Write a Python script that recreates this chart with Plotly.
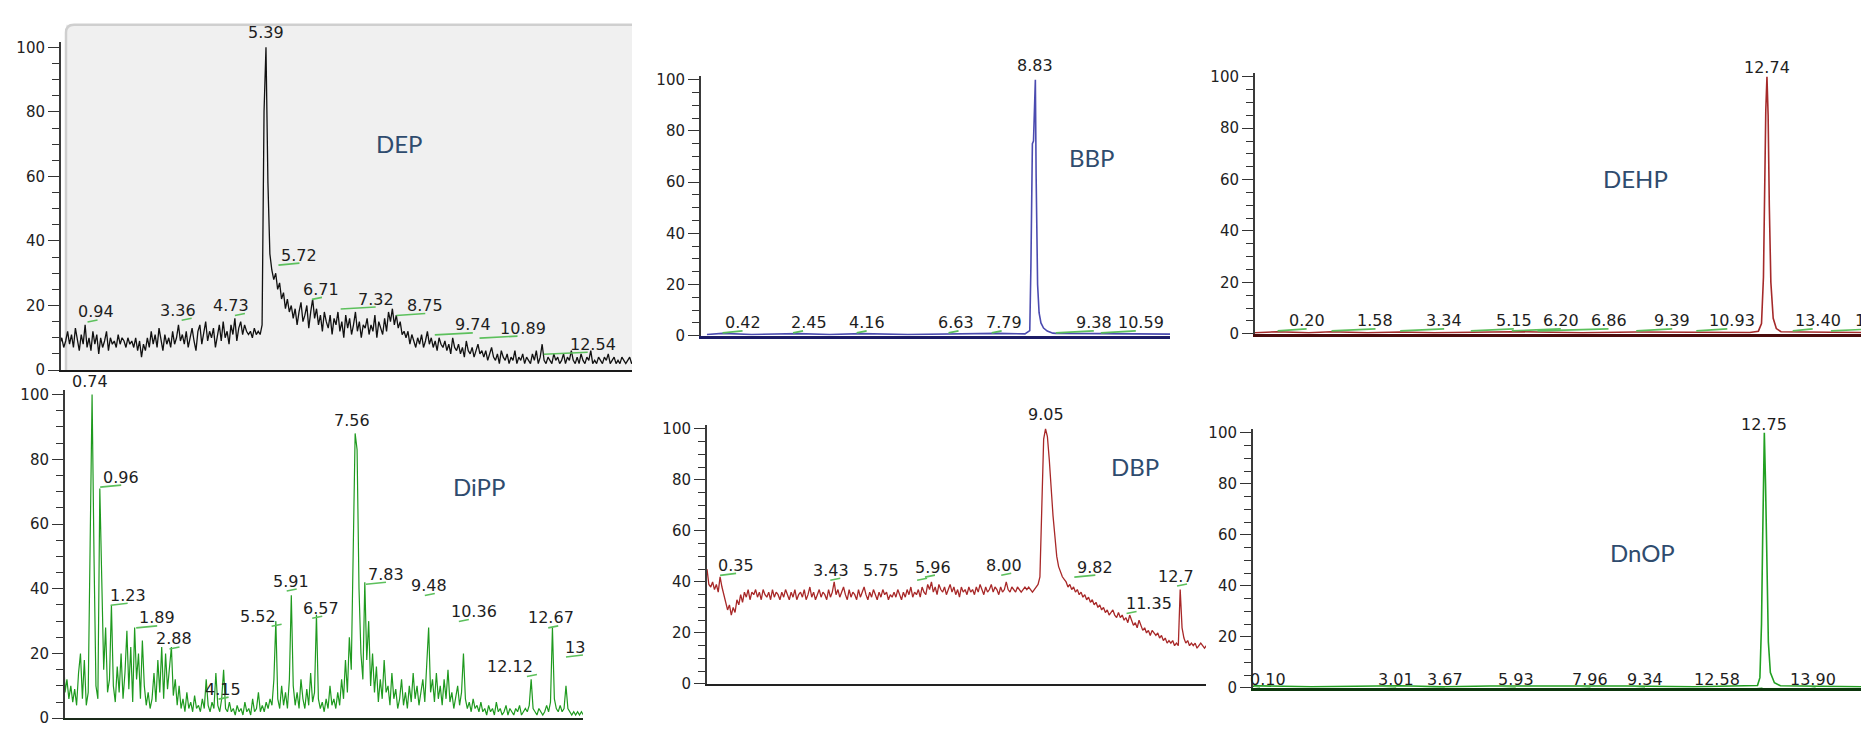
import numpy as np
import plotly.graph_objects as go

W, H = 1869, 732

# ---------------- DATA (relative abundance vs retention time, min) ----------------
DT = 0.05  # scan spacing of the noisy traces (min)

DEP = [6, 9, 8, 10, 7, 9, 12, 8, 11, 7, 13, 9, 6, 11, 8, 14, 7, 10, 6, 12,
       8, 11, 5, 10, 7, 9, 12, 6, 10, 8, 9, 7, 11, 8, 10, 9, 7, 10, 8, 9,
       7, 10, 6, 9, 4, 8, 6, 10, 7, 12, 8, 11, 7, 13, 9, 6, 11, 8, 10, 7,
       12, 8, 10, 14, 9, 11, 8, 12, 7, 10, 13, 9, 6, 12, 14, 8, 11, 15, 9, 12,
       10, 13, 7, 11, 14, 9, 15, 10, 12, 8, 14, 11, 16, 9, 13, 15, 11, 14, 12, 11,
       12, 10, 13, 11, 12, 11, 14, 80, 100, 58, 36, 31, 28, 30, 25, 27, 22, 24, 19, 22,
       18, 20, 16, 19, 14, 18, 21, 15, 17, 20, 13, 18, 22, 16, 19, 14, 17, 12, 18, 15,
       13, 17, 11, 16, 14, 18, 12, 15, 10, 17, 13, 16, 11, 14, 18, 12, 15, 10, 14, 13,
       16, 11, 14, 12, 17, 10, 15, 13, 11, 16, 12, 18, 15, 19, 14, 17, 13, 15, 11, 12,
       10, 12, 8, 11, 9, 7, 10, 8, 11, 7, 9, 12, 8, 10, 7, 9, 6, 10, 8, 7,
       9, 6, 8, 5, 10, 7, 6, 8, 5, 7, 4, 9, 6, 5, 7, 4, 6, 8, 5, 6,
       4, 6, 3, 5, 7, 4, 3, 5, 2, 6, 4, 3, 5, 2, 4, 3, 6, 2, 4, 3,
       5, 2, 4, 3, 2, 5, 3, 6, 2, 4, 8, 3, 2, 4, 3, 2, 5, 3, 4, 2,
       3, 5, 2, 4, 3, 6, 3, 2, 4, 2, 5, 3, 2, 4, 3, 6, 2, 3, 2, 4,
       3, 2, 4, 3, 5, 2, 3, 4, 2, 3, 2, 4, 3, 2, 3, 4, 2, 3, 2, 3, 2]

DIPP = [24, 8, 12, 6, 10, 5, 9, 4, 14, 20, 6, 18, 4, 8, 54, 100, 50, 10, 6, 71,
        43, 15, 28, 8, 12, 35, 10, 5, 16, 8, 20, 6, 14, 27, 9, 22, 5, 28, 12, 20,
        6, 24, 10, 4, 8, 3, 6, 14, 5, 18, 8, 22, 6, 20, 9, 16, 22, 7, 12, 4,
        10, 3, 6, 2, 8, 3, 5, 2, 7, 3, 4, 2, 6, 3, 12, 4, 2, 5, 3, 14,
        4, 2, 6, 15, 3, 2, 5, 2, 3, 1, 4, 2, 3, 1, 5, 2, 3, 1, 6, 2,
        3, 8, 2, 4, 2, 5, 3, 6, 4, 12, 30, 6, 3, 10, 4, 8, 3, 12, 38, 10,
        4, 8, 3, 12, 6, 3, 9, 4, 14, 5, 8, 32, 6, 3, 5, 2, 6, 3, 10, 4,
        6, 3, 8, 4, 12, 6, 18, 8, 25, 15, 55, 88, 83, 40, 20, 12, 42, 18, 30, 10,
        20, 8, 16, 5, 12, 6, 18, 8, 10, 4, 14, 6, 9, 3, 6, 12, 4, 8, 3, 10,
        5, 14, 6, 10, 4, 8, 12, 5, 18, 28, 8, 12, 5, 14, 6, 10, 4, 12, 6, 15,
        5, 8, 3, 6, 10, 4, 8, 20, 6, 3, 5, 2, 6, 3, 4, 2, 5, 2, 3, 1,
        4, 2, 3, 1, 5, 2, 3, 1, 2, 4, 1, 3, 2, 1, 3, 2, 4, 1, 2, 3,
        2, 4, 12, 3, 2, 1, 3, 2, 1, 2, 4, 2, 5, 28, 6, 3, 2, 4, 2, 3,
        10, 3, 2, 1, 2, 1, 2, 1, 2, 1]

DBP = [45, 39, 38, 40, 37, 39, 36, 42, 38, 35, 33, 29, 31, 27, 30, 28, 33, 31, 35, 32,
       36, 34, 37, 33, 36, 35, 37, 34, 36, 33, 37, 35, 34, 36, 33, 37, 34, 36, 35, 33,
       36, 34, 37, 35, 33, 36, 34, 37, 33, 35, 36, 34, 37, 33, 35, 38, 34, 36, 33, 35,
       37, 34, 36, 35, 33, 37, 34, 36, 40, 35, 37, 34, 36, 38, 35, 33, 37, 34, 36, 35,
       33, 37, 34, 36, 38, 35, 33, 36, 34, 37, 35, 33, 36, 34, 37, 35, 36, 33, 35, 34,
       36, 34, 37, 35, 33, 36, 34, 37, 35, 38, 34, 36, 35, 37, 34, 38, 36, 35, 39, 37,
       40, 36, 38, 35, 39, 37, 36, 38, 35, 37, 39, 36, 38, 35, 37, 34, 38, 36, 37, 35,
       38, 36, 37, 35, 38, 36, 39, 37, 35, 38, 36, 37, 39, 36, 38, 37, 35, 38, 36, 37,
       40, 37, 36, 38, 37, 36, 38, 37, 36, 37, 38, 37, 38, 37, 36, 37, 38, 39, 42, 65,
       96, 100, 97, 88, 75, 66, 58, 50, 46, 44, 42, 41, 40, 38, 39, 37, 38, 36, 37, 35,
       36, 34, 35, 33, 34, 32, 33, 31, 32, 30, 31, 29, 30, 28, 29, 27, 28, 29, 27, 26,
       28, 26, 27, 25, 26, 24, 27, 25, 23, 24, 22, 25, 23, 21, 22, 20, 21, 19, 21, 20,
       19, 20, 18, 19, 17, 18, 16, 17, 16, 17, 15, 16, 15, 37, 22, 18, 16, 17, 15, 16,
       15, 16, 14, 15, 16, 15, 14, 15, 16]

BBP_T = [0.0, 0.42, 1.2, 2.45, 3.3, 4.16, 5.4, 6.63, 7.79, 8.55, 8.68, 8.71, 8.75, 8.78,
         8.81, 8.83, 8.85, 8.87, 8.89, 8.93, 8.98, 9.05, 9.15, 9.3, 9.38, 10.59, 12.45]
BBP_Y = [0.5, 0.9, 0.5, 0.8, 0.5, 0.8, 0.5, 0.8, 0.9, 0.7, 2.0, 27, 75, 76,
         97, 100, 63, 40, 20, 9, 5, 3, 1.8, 1.0, 0.9, 0.8, 0.6]

DEHP_T = [-0.38, 0.2, 1.0, 1.58, 2.5, 3.34, 4.2, 5.15, 6.2, 6.86, 8.0, 9.39, 10.93, 12.3,
          12.52, 12.6, 12.65, 12.68, 12.71, 12.74, 12.77, 12.80, 12.84, 12.90, 12.98,
          13.1, 13.4, 14.38, 15.56]
DEHP_Y = [0.4, 0.8, 0.4, 0.8, 0.4, 0.7, 0.4, 0.7, 0.8, 0.7, 0.4, 0.7, 0.7, 0.5,
          1.0, 4, 22, 60, 87, 100, 85, 50, 20, 6, 2,
          0.8, 0.7, 0.6, 0.4]

DNOP_T = [0.0, 0.1, 1.5, 3.01, 3.67, 4.8, 5.93, 7.96, 9.34, 11.0, 12.4, 12.58, 12.64,
          12.68, 12.71, 12.73, 12.75, 12.78, 12.81, 12.85, 12.9, 13.0, 13.15, 13.9, 15.35]
DNOP_Y = [0.4, 0.8, 0.4, 0.7, 0.8, 0.4, 0.7, 0.7, 0.7, 0.4, 0.6, 0.9, 4,
          25, 60, 87, 100, 80, 45, 18, 6, 2, 0.8, 0.7, 0.4]

# Peak retention-time labels (first one = base peak, 100 %)
DEP_LABELS = ["5.39", "0.94", "3.36", "4.73", "5.72", "6.71", "7.32", "8.75", "9.74", "10.89", "12.54"]
BBP_LABELS = ["8.83", "0.42", "2.45", "4.16", "6.63", "7.79", "9.38", "10.59"]
DEHP_LABELS = ["12.74", "0.20", "1.58", "3.34", "5.15", "6.20", "6.86", "9.39", "10.93", "13.40", "14.38"]
DIPP_LABELS = ["0.74", "7.56", "0.96", "1.23", "1.89", "2.88", "4.15", "5.52", "5.91", "6.57",
               "7.83", "9.48", "10.36", "12.12", "12.67", "13"]
DBP_LABELS = ["9.05", "0.35", "3.43", "5.75", "5.96", "8.00", "9.82", "11.35", "12.7"]
DNOP_LABELS = ["12.75", "0.10", "3.01", "3.67", "5.93", "7.96", "9.34", "12.58", "13.90"]

COMPOUNDS = ["DEP", "BBP", "DEHP", "DiPP", "DBP", "DnOP"]

# ---------------- LAYOUT / STYLE ----------------
YMAX = 101.5
# per label: height (abundance units, None = base peak), kind (m=base peak, c=centred, l=left), x pixel shift
LAB_POS = {
    "DEP": ([None, 18, 18.5, 20, 35.6, 25, 22, 20, 14, 13, 8],
            ["m", "l", "l", "l", "l", "l", "l", "l", "l", "l", "l"],
            [0, -17, -29, -29, 1, -16, 15, 9, 18, 18, 24]),
    "BBP": ([None, 5, 5, 5, 5, 5, 5, 5],
            ["m", "l", "l", "l", "l", "l", "l", "l"],
            [0, 0, -9, -15, -18, -13, 18, 15]),
    "DEHP": ([None, 5, 5, 5, 5, 5, 5, 5, 5, 5, 5],
             ["m", "l", "l", "l", "l", "l", "l", "l", "l", "l", "l"],
             [0, 9, 24, 24, 23, 29, 51, 16, 11, 0, 22]),
    "DiPP": ([None, 92, 74.5, 38, 31, 24.5, 9, 31.5, 42.4, 34, 44.5, 41, 33, 16, 31, 22],
             ["m", "c", "l", "l", "l", "l", "l", "l", "l", "l", "l", "l", "l", "l", "l", "l"],
             [-2, -4, 1, -3, 1, -20, -21, -39, -21, -16, 0, -21, -15, -47, -27, -3]),
    "DBP": ([None, 46.5, 44.6, 44.6, 45.8, 46.5, 45.8, 31.5, 42.3],
            ["m", "l", "l", "l", "l", "l", "l", "l", "l"],
            [0, -4, -24, -61, -17, -22, 1, -8, -26]),
    "DnOP": ([None, 3.2, 3.2, 3.2, 3.2, 3.2, 3.2, 3.2, 3.2],
             ["m", "l", "l", "l", "l", "l", "l", "l", "l"],
             [0, -7, 4, 26, 6, -1, -2, -65, -23]),
}

PANELS = {
    "DEP":  dict(px=(53, 624),    p0=364, p100=35,  xr=(0.13, 14.81), color="#111111", lw=1.3,
                 axc="#1a1a1a", axw=2.2, name_px=(391, 133), main_dy=15),
    "BBP":  dict(px=(693, 1162),  p0=329, p100=68,  xr=(-0.16, 12.45), color="#4b4bb0", lw=1.6,
                 axc="#1c1c66", axw=3, name_px=(1083, 147), main_dy=14),
    "DEHP": dict(px=(1247, 1869), p0=327, p100=65,  xr=(-0.38, 15.56), color="#a52a2a", lw=1.6,
                 axc="#4a0c0c", axw=2.6, name_px=(1627, 169), main_dy=9),
    "DiPP": dict(px=(57, 575),    p0=719, p100=389, xr=(0.05, 13.44), color="#1f9a1f", lw=1.2,
                 axc="#1a2a1a", axw=2, name_px=(471, 483), main_dy=13),
    "DBP":  dict(px=(699, 1198),  p0=684, p100=424, xr=(0.0, 13.34), color="#a82828", lw=1.3,
                 axc="#222222", axw=1.6, name_px=(1127, 462), main_dy=14),
    "DnOP": dict(px=(1245, 1859), p0=688, p100=428, xr=(0.05, 15.3), color="#22a022", lw=1.6,
                 axc="#0c360c", axw=2.6, name_px=(1634, 550), main_dy=8),
}

SERIES = {
    "DEP": (DT * np.arange(len(DEP)), DEP, DEP_LABELS),
    "BBP": (BBP_T, BBP_Y, BBP_LABELS),
    "DEHP": (DEHP_T, DEHP_Y, DEHP_LABELS),
    "DiPP": (DT * np.arange(len(DIPP)), DIPP, DIPP_LABELS),
    "DBP": (DT * np.arange(len(DBP)), DBP, DBP_LABELS),
    "DnOP": (DNOP_T, DNOP_Y, DNOP_LABELS),
}

NUM_FONT = dict(family="DejaVu Sans", size=16, color="#1e1e1e")
GREEN = "#5cc05c"

fig = go.Figure()
layout = dict(width=W, height=H, margin=dict(l=0, r=0, t=0, b=0), autosize=False,
              paper_bgcolor="white", plot_bgcolor="rgba(0,0,0,0)", showlegend=False)
annotations, shapes = [], []

# grey background of the DEP trace window
gx0, gx1, gy0, gy1, rad = 58 / W, 624 / W, 1 - 366 / H, 1 - 12 / H, 8
shapes.append(dict(type="rect", xref="paper", yref="paper", x0=gx0, x1=gx1, y0=gy0, y1=gy1,
                   fillcolor="#f0f0f0", line=dict(width=0), layer="below"))
shapes.append(dict(type="path", xref="paper", yref="paper", layer="below",
                   path=f"M {gx0},{gy0} L {gx0},{gy1 - rad / H} Q {gx0},{gy1} {gx0 + rad / W},{gy1} L {gx1},{gy1}",
                   line=dict(color="#cfcfcf", width=2.5)))

for i, key in enumerate(COMPOUNDS):
    P = PANELS[key]
    t, y, labels = SERIES[key]
    n = "" if i == 0 else str(i + 1)
    xa, ya = "x" + n, "y" + n
    top_px = P["p0"] - (P["p0"] - P["p100"]) * YMAX / 100.0
    layout["xaxis" + n] = dict(domain=[P["px"][0] / W, P["px"][1] / W], range=list(P["xr"]),
                               anchor=ya, showline=True, linecolor=P["axc"], linewidth=P["axw"],
                               ticks="", showticklabels=False, showgrid=False, zeroline=False)
    layout["yaxis" + n] = dict(domain=[1 - P["p0"] / H, 1 - top_px / H], range=[0, YMAX],
                               anchor=xa, showline=True, linecolor="#3a3a3a", linewidth=2,
                               tick0=0, dtick=20, ticks="outside", ticklen=11, tickwidth=1.4,
                               tickcolor="#333", showgrid=False, zeroline=False,
                               tickfont=dict(family="DejaVu Sans", size=15, color="#222"),
                               minor=dict(dtick=5, ticks="outside", ticklen=7, tickwidth=1.4,
                                          tickcolor="#333", showgrid=False))
    fig.add_trace(go.Scatter(x=t, y=y, mode="lines", xaxis=xa, yaxis=ya, hoverinfo="skip",
                             line=dict(color=P["color"], width=P["lw"])))

    ys, kinds, dxs = LAB_POS[key]
    for lab, yl, kind, dx in zip(labels, ys, kinds, dxs):
        rt = float(lab)
        if kind == "m":
            annotations.append(dict(x=rt, y=100, xref=xa, yref=ya, text=lab, showarrow=False,
                                    xanchor="center", yanchor="middle", xshift=dx,
                                    yshift=P["main_dy"], font=NUM_FONT))
            continue
        annotations.append(dict(x=rt, y=yl, xref=xa, yref=ya, text=lab, showarrow=False,
                                xanchor="center" if kind == "c" else "left", yanchor="middle",
                                xshift=dx, font=NUM_FONT))
        if kind == "c":
            continue
        gx = (0, dx + 20) if dx >= -5 else (-5, 5)
        shapes.append(dict(type="line", xref=xa, yref=ya, xsizemode="pixel", ysizemode="pixel",
                           xanchor=rt, yanchor=yl, x0=gx[0], x1=gx[1], y0=-10, y1=-8,
                           line=dict(color=GREEN, width=1.6)))

    nx, ny = P["name_px"]
    annotations.append(dict(x=nx / W, y=1 - ny / H, xref="paper", yref="paper", text=key,
                            showarrow=False, xanchor="center", yanchor="middle",
                            font=dict(family="Lato", size=24, color="#2f4c6e")))

layout["annotations"] = annotations
layout["shapes"] = shapes
fig.update_layout(**layout)
fig.write_html("out.html")
